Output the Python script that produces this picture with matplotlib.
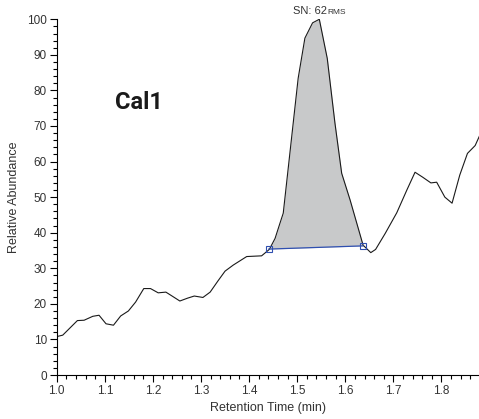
import numpy as np
import matplotlib
matplotlib.use('Agg')
from matplotlib import pyplot as plt
from matplotlib.ticker import MultipleLocator

plt.rcParams['font.family'] = ['Liberation Sans', 'DejaVu Sans']

# chromatogram trace
rt = [1.000, 1.0125, 1.043, 1.057, 1.075, 1.088, 1.1025, 1.118, 1.133, 1.149,
      1.164, 1.181, 1.195, 1.211, 1.227, 1.241, 1.256, 1.272, 1.286, 1.304,
      1.319, 1.335, 1.350, 1.367, 1.381, 1.395, 1.426, 1.442, 1.454, 1.464,
      1.471, 1.502, 1.516, 1.532, 1.546, 1.5625, 1.5785, 1.5925, 1.610, 1.637,
      1.653, 1.663, 1.683, 1.707, 1.728, 1.745, 1.761, 1.778, 1.790, 1.807,
      1.822, 1.838, 1.854, 1.870, 1.880]
abundance = [10.8, 11.2, 15.3, 15.4, 16.5, 16.8, 14.4, 14.0, 16.6, 18.0,
             20.5, 24.3, 24.3, 23.1, 23.3, 22.1, 20.8, 21.6, 22.2, 21.8,
             23.3, 26.4, 29.2, 30.9, 32.1, 33.3, 33.5, 35.3, 38.4, 42.6,
             45.5, 83.4, 94.7, 99.0, 100.0, 89.0, 70.8, 56.7, 49.2, 36.5,
             34.4, 35.3, 39.8, 45.6, 52.0, 57.0, 55.6, 54.0, 54.2, 50.0,
             48.3, 56.2, 62.3, 64.5, 67.5]

# integration baseline endpoints
base_rt = [1.441, 1.637]
base_ab = [35.4, 36.3]

rt = np.array(rt)
abundance = np.array(abundance)

fig = plt.figure(figsize=(4.79, 4.19), dpi=100)
ax = fig.add_axes([0.1184, 0.105, 0.8816, 0.849])

# shaded peak area
mask = (rt >= base_rt[0]) & (rt <= base_rt[1])
px = np.concatenate([[base_rt[0]], rt[mask], [base_rt[1]]])
py = np.interp(px, rt, abundance)
py[0], py[-1] = base_ab[0], base_ab[1]
ax.fill_between(px, py, np.interp(px, base_rt, base_ab), color='#c8c9ca', lw=0)

ax.plot(rt, abundance, color='#1a1a1a', lw=0.8)
ax.plot(base_rt, base_ab, color='#2f4fb0', lw=0.9, marker='s', ms=5,
        mfc='none', mec='#2f4fb0', mew=0.8)

ax.set_xlim(1.0, 1.878)
ax.set_ylim(0, 100)
ax.xaxis.set_major_locator(MultipleLocator(0.1))
ax.xaxis.set_minor_locator(MultipleLocator(0.02))
ax.yaxis.set_major_locator(MultipleLocator(10))
ax.yaxis.set_minor_locator(MultipleLocator(2))
ax.xaxis.set_major_formatter(matplotlib.ticker.FormatStrFormatter('%.1f'))
ax.tick_params(which='major', direction='out', length=5, width=0.8,
               labelsize=8.5, pad=2, labelcolor='#333333')
ax.tick_params(which='minor', direction='out', length=3, width=0.8)
for s in ['top', 'right']:
    ax.spines[s].set_visible(False)
for s in ['left', 'bottom']:
    ax.spines[s].set_linewidth(0.8)

ax.set_xlabel('Retention Time (min)', fontsize=9, labelpad=4, color='#333333')
ax.set_ylabel('Relative Abundance', fontsize=9, labelpad=5, color='#333333')

ax.text(1.171, 76.5, 'Cal1', fontsize=17, fontweight='bold',
        family=['Roboto', 'DejaVu Sans'], ha='center', va='center', color='#1a1a1a')
ax.text(1.562, 100.9, 'SN: 62', fontsize=8, ha='right', va='bottom',
        clip_on=False, color='#333333')
ax.text(1.562, 100.9, 'RMS', fontsize=6, ha='left', va='bottom',
        clip_on=False, color='#333333')

fig.savefig('out.png', dpi=100)
